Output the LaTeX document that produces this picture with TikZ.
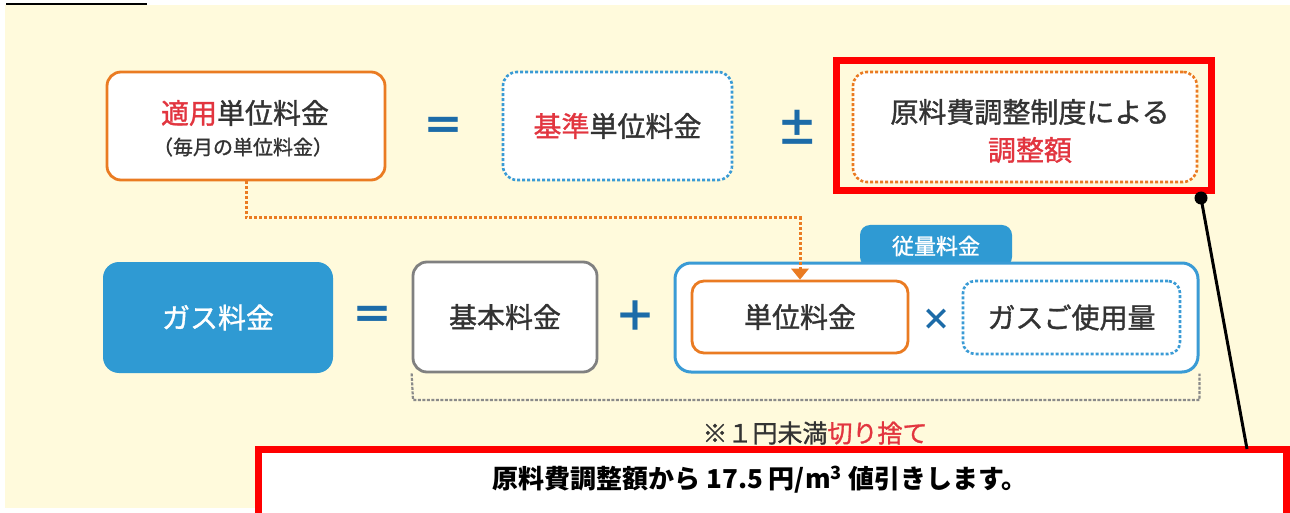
\documentclass[tikz,border=0pt]{standalone}
\usepackage{fontspec}
\setmainfont{Noto Sans CJK JP}
\newfontfamily\medfont{Noto Sans CJK JP}[FakeBold=1.2]
\usetikzlibrary{arrows.meta}
\definecolor{cream}{HTML}{FFFADC}
\definecolor{orng}{HTML}{EA7B22}
\definecolor{bluefill}{HTML}{2F9AD3}
\definecolor{bluestroke}{HTML}{3A9BD5}
\definecolor{opblue}{HTML}{1C6BA8}
\definecolor{txt}{HTML}{333333}
\definecolor{redtxt}{HTML}{E2353F}
\definecolor{hl}{HTML}{FF0000}
\definecolor{greyb}{HTML}{808080}
\definecolor{greyd}{HTML}{8A8A8A}
\newcommand{\myfs}[1]{\fontsize{#1}{#1}\selectfont}
\begin{document}
\begin{tikzpicture}[x=1pt,y=-1pt,
  basebox/.style={rectangle, fill=white, text=txt, font=\medfont\myfs{28}, inner sep=0pt},
  obox/.style={basebox, draw=orng, line width=2.8pt, rounded corners=14pt},
  odash/.style={basebox, draw=orng, line width=2.6pt, rounded corners=14pt, dash pattern=on 3pt off 2pt},
  bdash/.style={basebox, draw=bluestroke, line width=2.6pt, rounded corners=14pt, dash pattern=on 3pt off 2pt},
  gbox/.style={basebox, draw=greyb, line width=2.8pt, rounded corners=14pt},
  lbl/.style={text=txt, font=\medfont\myfs{28}, inner sep=0pt},
  op/.style={text=opblue, font=\myfs{42}\bfseries, inner sep=0pt},
  hlbox/.style={rectangle, draw=hl, line width=7pt, inner sep=0pt},
  conn/.style={draw=orng, line width=3pt, dash pattern=on 3pt off 2pt},
  bracketline/.style={draw=greyd, line width=2.2pt, dash pattern=on 3pt off 1.5pt}
]
\useasboundingbox (0,0) rectangle (1290,513);
\clip (0,0) rectangle (1290,513);
\fill[white] (0,0) rectangle (1290,513);
\fill[cream] (5,5) rectangle (1290,508);
\draw[line width=2.5pt] (6,4) -- (147,4);

% top row
\node[obox, minimum width=278pt, minimum height=108pt] (tekiyo) at (246,126) {};
\node[lbl] (tekiyoA) at (245,113) {\textcolor{redtxt}{適用}単位料金};
\node[lbl, font=\medfont\myfs{20}] (tekiyoB) at (243,147) {（毎月の単位料金）};

\node[op] (eq1) at (443,129) {＝};
\node[bdash, minimum width=229pt, minimum height=108pt] (kijun) at (617.5,126) {\textcolor{redtxt}{基準}単位料金};
\node[op] (pm) at (797,127) {±};

\node[hlbox, minimum width=375pt, minimum height=130pt] (hltop) at (1024,125.5) {};
\node[odash, minimum width=344pt, minimum height=110pt] (genryo) at (1025,127) {};
\node[lbl] (genryoA) at (1030,112) {原料費調整制度による};
\node[lbl, text=redtxt] (genryoB) at (1030,150) {調整額};

% bottom row
\node[rectangle, fill=bluefill, rounded corners=16pt, minimum width=230pt, minimum height=111pt, text=white, font=\medfont\myfs{28}, inner sep=0pt] (gas) at (218,317.5) {ガス料金};
\node[op] (eq2) at (372,318) {＝};
\node[gbox, minimum width=184pt, minimum height=110pt] (kihon) at (505,317) {基本料金};
\node[op] (plus) at (635,316) {＋};

\node[rectangle, fill=bluefill, rounded corners=10pt, minimum width=152pt, minimum height=42pt, text=white, font=\medfont\myfs{22}, inner sep=0pt] (tab) at (936,246) {従量料金};
\node[basebox, draw=bluestroke, line width=3pt, rounded corners=16pt, minimum width=523pt, minimum height=109pt] (juryo) at (936.5,317.5) {};
\node[obox, rounded corners=12pt, minimum width=216pt, minimum height=72pt] (tani) at (800,317) {単位料金};
\node[text=opblue, font=\myfs{30}\bfseries, inner sep=0pt] (times) at (936,320) {×};
\node[bdash, rounded corners=12pt, minimum width=217pt, minimum height=73pt] (shiyou) at (1071.5,317.5) {ガスご使用量};

% bracket
\draw[bracketline] (kihon.south west) -- (413,400) -| (juryo.south east);
\node[lbl, font=\medfont\myfs{25}] (note) at (815,433) {※１円未満\textcolor{redtxt}{切り捨て}};

% orange connector
\draw[conn, -{Triangle[width=18pt,length=11pt,fill=orng,line width=0pt]}] (tekiyo.south) -- (246,218) -| (tani.north);

% bottom message box
\node[hlbox, fill=white, minimum width=1028pt, minimum height=91pt] (msgbox) at (772.5,495) {};
\node[text=black, font=\myfs{26}\bfseries, inner sep=0pt] (msg) at (760,480) {原料費調整額から 17.5 円/m\textsuperscript{3} 値引きします。};

% callout line
\coordinate (dot) at (1201,198);
\coordinate (lineend) at (1247,449);
\draw[line width=3pt] (dot) -- (lineend);
\fill (dot) circle (6.5pt);
\end{tikzpicture}
\end{document}
